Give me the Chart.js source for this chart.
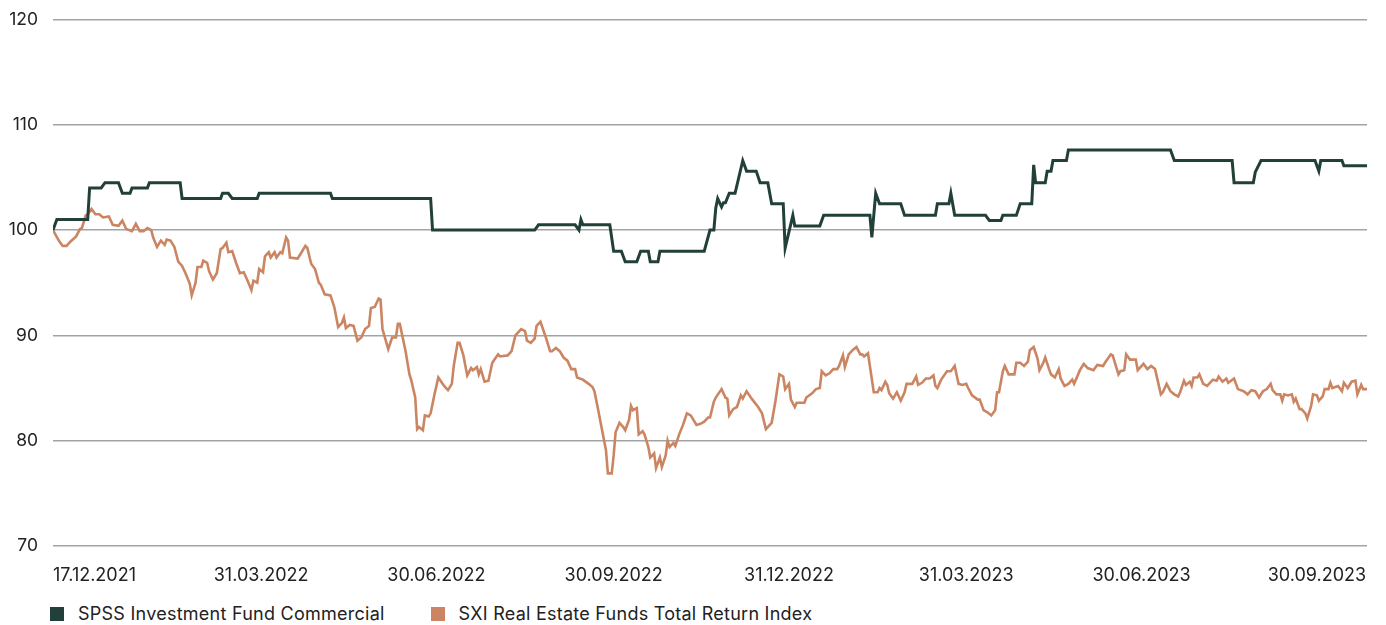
<!DOCTYPE html>
<html>
<head>
<meta charset="utf-8">
<script src="https://cdn.jsdelivr.net/npm/chart.js@4/dist/chart.umd.min.js"></script>
<style>
  html, body { margin: 0; padding: 0; background: #fff; }
  body { width: 1386px; height: 625px; position: relative; overflow: hidden; font-family: Inter, "Noto Sans", sans-serif; }
  /* y-axis label padding pushes the plot down ~24px, so pull the canvas up a bit */
  #wrap { position: absolute; left: 0; top: -6px; width: 1386px; height: 596px; }
  #legend { position: absolute; left: 50px; top: 603px; display: flex; font-size: 18px; letter-spacing: 0.25px; color: #222; }
  .item { display: flex; align-items: center; margin-right: 46px; }
  .box { width: 14px; height: 14px; margin-right: 14px; }
</style>
</head>
<body>
<div id="wrap"><canvas id="chart"></canvas></div>
<div id="legend"></div>
<script>
// x values are days since 17.12.2021
const seriesNames = ['SPSS Investment Fund Commercial', 'SXI Real Estate Funds Total Return Index'];
const seriesColors = ['#22403a', '#cb8562'];

const tickLabels = ['17.12.2021', '31.03.2022', '30.06.2022', '30.09.2022', '31.12.2022', '31.03.2023', '30.06.2023', '30.09.2023', ''];
const tickDays = [0, 108, 199, 291, 382, 474, 565, 656, 682];

const fundDays = [0, 2, 18, 19, 25, 27, 34, 36, 40, 41, 49, 50, 66, 67, 87, 88, 91, 93, 106, 107, 144, 145, 196, 197,
  250, 252, 271, 273, 274, 275, 289, 291, 295, 297, 303, 305, 309, 310, 314, 315, 338, 341, 343, 344, 345, 347, 348, 349,
  351, 354, 358, 360, 365, 367, 371, 373, 379, 380, 384, 385, 398, 400, 424, 425, 427, 429, 440, 442, 458, 459, 465, 466,
  468, 484, 486, 492, 493, 500, 502, 508, 509, 510, 515, 516, 518, 519, 526, 527, 580, 582, 612, 613, 623, 624, 627, 655,
  657, 658, 669, 670, 682];
const fundValues = [100, 101, 101, 104, 104, 104.5, 104.5, 103.5, 103.5, 104, 104, 104.5, 104.5, 103, 103, 103.5, 103.5, 103, 103, 103.5, 103.5, 103, 103, 100,
  100, 100.5, 100.5, 100, 101, 100.5, 100.5, 98, 98, 97, 97, 98, 98, 97, 97, 98, 98, 100, 100, 102.1, 103, 102.2, 102.6, 102.6,
  103.5, 103.5, 106.6, 105.6, 105.6, 104.5, 104.5, 102.5, 102.5, 98.3, 101.4, 100.4, 100.4, 101.4, 101.4, 99.3, 103.5, 102.5, 102.5, 101.4, 101.4, 102.5, 102.5, 103.5,
  101.4, 101.4, 100.9, 100.9, 101.4, 101.4, 102.5, 102.5, 106.2, 104.5, 104.5, 105.6, 105.6, 106.6, 106.6, 107.6, 107.6, 106.6, 106.6, 104.5, 104.5, 105.5, 106.6, 106.6,
  105.6, 106.6, 106.6, 106.1, 106.1];

const indexDays = [0, 3, 5, 7, 9, 12, 14, 15, 17, 18, 20, 22, 24, 26, 29, 31, 34, 36, 38, 41, 43, 45, 47, 49, 51, 52, 54, 56, 58, 59,
  61, 63, 65, 67, 69, 71, 72, 74, 75, 77, 78, 80, 81, 83, 85, 87, 88, 90, 91, 93, 95, 97, 99, 101, 103, 104, 106, 107, 109, 110,
  112, 113, 115, 116, 118, 119, 121, 122, 123, 127, 129, 131, 132, 134, 136, 138, 139, 141, 144, 146, 148, 150, 151, 152, 154, 156, 158, 160, 162, 164,
  165, 167, 169, 170, 171, 174, 176, 178, 179, 180, 183, 185, 186, 188, 189, 190, 192, 193, 195, 196, 198, 200, 203, 205, 207, 208, 210, 211, 213, 215,
  217, 218, 220, 221, 222, 224, 226, 228, 231, 232, 236, 238, 240, 243, 245, 246, 248, 250, 251, 253, 256, 258, 259, 261, 263, 265, 267, 269, 271, 272,
  275, 278, 280, 281, 283, 285, 287, 288, 290, 291, 292, 294, 296, 297, 299, 300, 301, 303, 304, 306, 307, 309, 310, 312, 313, 315, 316, 318, 319, 320,
  322, 323, 325, 327, 329, 331, 334, 336, 338, 340, 341, 343, 344, 347, 349, 350, 351, 353, 355, 357, 358, 360, 363, 366, 368, 370, 373, 375, 377, 379,
  380, 382, 383, 385, 386, 390, 391, 394, 396, 398, 399, 401, 403, 405, 407, 408, 410, 411, 413, 415, 417, 419, 420, 421, 423, 426, 428, 429, 430, 432,
  433, 434, 436, 438, 440, 442, 443, 446, 448, 449, 451, 453, 455, 457, 458, 459, 461, 464, 466, 468, 470, 472, 474, 475, 477, 480, 481, 483, 485, 487,
  489, 490, 491, 493, 494, 496, 499, 500, 502, 504, 506, 507, 509, 511, 512, 514, 515, 517, 518, 520, 522, 523, 525, 527, 529, 530, 533, 535, 537, 540,
  542, 545, 546, 549, 550, 553, 554, 556, 557, 559, 562, 563, 566, 568, 570, 572, 575, 576, 578, 580, 582, 584, 585, 587, 588, 590, 591, 592, 594, 595,
  597, 599, 600, 602, 604, 605, 607, 609, 610, 613, 615, 618, 620, 622, 624, 626, 628, 630, 632, 633, 635, 637, 638, 639, 641, 643, 644, 645, 647, 648,
  650, 651, 653, 654, 656, 657, 659, 660, 662, 663, 664, 667, 669, 670, 672, 674, 676, 677, 679, 680, 682];
const indexValues = [100, 99.0, 98.5, 98.5, 98.9, 99.4, 100.1, 100.2, 101.4, 101.5, 102.0, 101.5, 101.5, 101.2, 101.3, 100.5, 100.4, 100.9, 100.1, 99.9, 100.6, 99.9, 99.9, 100.2, 100.0, 99.3, 98.4, 99.0, 98.6, 99.1,
  99.0, 98.4, 97.0, 96.6, 95.8, 94.9, 93.8, 95.0, 96.5, 96.5, 97.1, 96.9, 96.1, 95.3, 95.9, 98.2, 98.3, 98.8, 97.9, 98.0, 96.9, 95.9, 96.0, 95.2, 94.3, 95.2, 95.0, 96.3, 96.0, 97.5,
  97.9, 97.4, 97.9, 97.4, 97.9, 97.8, 99.3, 99.0, 97.4, 97.3, 97.9, 98.5, 98.3, 96.8, 96.3, 95.0, 94.8, 93.9, 93.8, 92.7, 90.8, 91.2, 91.7, 90.7, 91.0, 90.9, 89.5, 89.8, 90.6, 90.9,
  92.6, 92.7, 93.5, 93.4, 90.6, 88.7, 89.8, 89.8, 91.1, 91.1, 88.5, 86.3, 85.7, 84.1, 81.1, 81.3, 81.0, 82.4, 82.3, 82.6, 84.4, 86.0, 85.2, 84.8, 85.4, 87.1, 89.3, 89.3, 88.1, 86.2,
  86.9, 86.7, 87.0, 86.3, 86.8, 85.6, 85.7, 87.4, 88.2, 88.0, 88.1, 88.5, 90.0, 90.6, 90.4, 89.5, 89.3, 89.7, 90.9, 91.3, 89.7, 88.5, 88.5, 88.8, 88.5, 87.9, 87.6, 86.8, 86.8, 86.0,
  85.8, 85.4, 85.1, 84.7, 82.9, 81.0, 79.1, 76.9, 76.9, 78.6, 80.8, 81.7, 81.3, 81.0, 82.0, 83.3, 82.9, 83.1, 80.6, 80.9, 80.6, 79.4, 78.4, 78.8, 77.4, 78.4, 77.5, 78.6, 80.0, 79.4,
  79.8, 79.5, 80.6, 81.5, 82.6, 82.4, 81.5, 81.6, 81.8, 82.2, 82.2, 83.7, 84.1, 84.9, 84.1, 84.0, 82.4, 83.0, 83.2, 84.3, 84.0, 84.7, 83.9, 83.2, 82.6, 81.1, 81.7, 83.8, 86.3, 86.1,
  84.9, 85.4, 83.9, 83.2, 83.6, 83.6, 84.1, 84.5, 84.9, 85.0, 86.6, 86.2, 86.4, 86.8, 86.8, 87.1, 88.1, 87.0, 88.2, 88.6, 88.9, 88.2, 88.2, 88.0, 88.3, 84.6, 84.6, 85.0, 84.8, 85.6,
  85.3, 84.5, 84.0, 84.6, 83.8, 84.6, 85.4, 85.4, 86.1, 85.3, 85.5, 85.9, 85.9, 86.2, 85.2, 85.0, 85.8, 86.6, 86.6, 87.1, 85.4, 85.3, 85.4, 85.0, 84.3, 83.9, 83.9, 82.9, 82.7, 82.4,
  82.9, 84.6, 84.6, 86.6, 87.1, 86.3, 86.3, 87.4, 87.4, 87.1, 87.5, 88.6, 88.9, 87.8, 86.7, 87.4, 87.9, 86.8, 86.3, 86.0, 86.8, 85.9, 85.2, 85.4, 85.8, 85.4, 86.7, 87.3, 86.9, 86.7,
  87.2, 87.1, 87.4, 88.2, 88.1, 86.3, 86.6, 86.7, 88.2, 87.7, 87.7, 86.7, 87.3, 86.8, 87.1, 86.8, 84.4, 84.6, 85.4, 84.7, 84.4, 84.2, 84.6, 85.7, 85.3, 85.6, 85.2, 86.0, 86.0, 86.3,
  85.4, 85.2, 85.4, 85.8, 85.7, 86.1, 85.6, 85.9, 85.5, 85.9, 84.9, 84.7, 84.4, 84.8, 84.7, 84.1, 84.7, 84.9, 85.4, 84.8, 84.4, 84.4, 83.8, 84.4, 84.3, 84.4, 83.7, 84.0, 83.0, 83.0,
  82.6, 82.1, 83.3, 84.4, 84.3, 83.8, 84.2, 84.9, 84.9, 85.5, 85.0, 85.2, 84.7, 85.5, 85.0, 85.6, 85.7, 84.4, 85.3, 84.9, 84.9];

const yTicks = [70, 80, 90, 100, 110, 120];

function toPoints(xs, ys) {
    return xs.map((d, i) => ({ x: d, y: ys[i] }));
}

const fontFamily = 'Inter, "Noto Sans", sans-serif';

const ctx = document.getElementById('chart').getContext('2d');
const chart = new Chart(ctx, {
    type: 'line',
    data: {
        datasets: [{
            label: seriesNames[0],
            data: toPoints(fundDays, fundValues),
            borderColor: seriesColors[0],
            backgroundColor: seriesColors[0],
            borderWidth: 3,
            pointRadius: 0,
            tension: 0,
            order: 0
        }, {
            label: seriesNames[1],
            data: toPoints(indexDays, indexValues),
            borderColor: seriesColors[1],
            backgroundColor: seriesColors[1],
            borderWidth: 2.6,
            pointRadius: 0,
            tension: 0,
            order: 1
        }]
    },
    options: {
        responsive: true,
        maintainAspectRatio: false,
        animation: false,
        layout: { padding: { top: 0, right: 17, left: 0, bottom: 0 } },
        plugins: {
            legend: { display: false },
            tooltip: { enabled: false }
        },
        scales: {
            x: {
                type: 'linear',
                min: 0,
                max: 682,
                grid: { display: false, drawTicks: false },
                border: { display: false },
                afterBuildTicks: (axis) => {
                    axis.ticks = tickDays.map(v => ({ value: v }));
                },
                afterFit: (axis) => { axis.height = 44; },
                ticks: {
                    autoSkip: false,
                    maxRotation: 0,
                    align: 'inner',
                    padding: 19,
                    color: '#222',
                    font: { family: fontFamily, size: 18 },
                    callback: (v, i) => tickLabels[i]
                }
            },
            y: {
                min: 70,
                max: 120,
                afterBuildTicks: (axis) => {
                    axis.ticks = yTicks.map(v => ({ value: v }));
                },
                afterFit: (axis) => { axis.width = 53; },
                grid: { color: '#a3a3a3', lineWidth: 1.5, drawTicks: false },
                border: { display: false },
                ticks: {
                    padding: 15,
                    color: '#222',
                    font: { family: fontFamily, size: 17.5 }
                }
            }
        }
    }
});

// legend
const legend = document.getElementById('legend');
seriesNames.forEach((name, i) => {
    const item = document.createElement('div');
    item.className = 'item';
    item.innerHTML = `<span class="box" style="background:${seriesColors[i]}"></span><span>${name}</span>`;
    legend.appendChild(item);
});
</script>
</body>
</html>
